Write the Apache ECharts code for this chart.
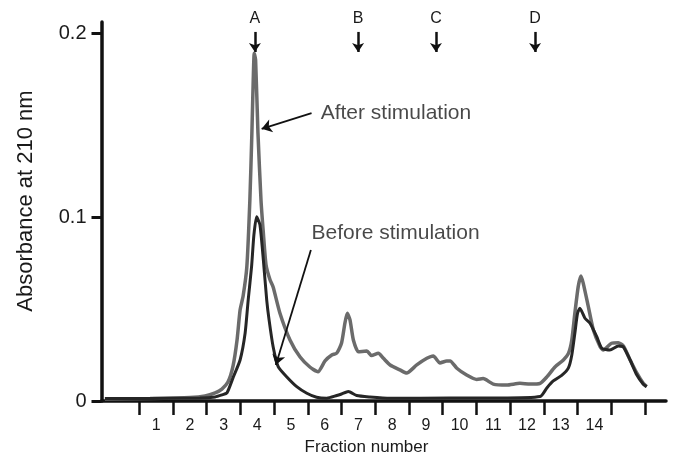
<!DOCTYPE html>
<html>
<head>
<meta charset="utf-8">
<script src="https://cdn.jsdelivr.net/npm/echarts@6/dist/echarts.min.js"></script>
<style>html,body{margin:0;padding:0;background:#fff}#c{width:673px;height:463px}</style>
</head>
<body>
<div id="c"></div>
<script>
// ---- data ----
const fractionLabels = ['', '1','2','3','4','5','6','7','8','9','10','11','12','13','14',''];
const yTickValues = [0, 0.1, 0.2];

const afterX = [-0.52,0.82,2.0,2.45,2.75,2.95,3.13,3.28,3.40,3.49,3.58,3.69,3.78,3.84,3.88,3.91,3.95,4.02,4.11,4.18,4.26,4.38,4.47,4.67,4.97,5.27,5.56,5.80,6.01,6.21,6.36,6.50,6.60,6.67,6.75,6.85,7.00,7.25,7.39,7.59,7.74,7.94,8.23,8.43,8.73,9.03,9.22,9.42,9.62,9.72,9.92,10.21,10.51,10.70,11.00,11.40,11.79,12.09,12.39,12.59,12.83,13.08,13.23,13.33,13.42,13.52,13.60,13.67,13.82,13.97,14.17,14.26,14.51,14.71,14.86,15.06,15.26,15.45,15.55];
const afterY = [0.0011,0.0014,0.0019,0.0027,0.0044,0.0065,0.0103,0.019,0.0332,0.0495,0.0571,0.0729,0.1093,0.1458,0.1746,0.1891,0.1855,0.1458,0.1093,0.0914,0.074,0.0658,0.062,0.0479,0.0332,0.0239,0.0185,0.0159,0.0218,0.025,0.0261,0.0315,0.0424,0.0477,0.0441,0.0332,0.0268,0.0272,0.0247,0.0259,0.0232,0.0196,0.0169,0.0152,0.0196,0.0232,0.0245,0.0207,0.0218,0.0218,0.0178,0.0141,0.0117,0.0122,0.0092,0.0087,0.0096,0.0092,0.0096,0.0131,0.0185,0.0223,0.0259,0.0332,0.0477,0.0622,0.068,0.064,0.0513,0.0386,0.0295,0.0277,0.0314,0.0317,0.0299,0.0223,0.0151,0.0096,0.0078];

const beforeX = [-0.52,0.82,2.30,2.75,2.95,3.10,3.29,3.49,3.64,3.73,3.83,3.90,3.98,4.08,4.18,4.28,4.35,4.47,4.62,4.87,5.17,5.47,5.76,6.06,6.36,6.50,6.70,6.95,7.34,7.94,9.72,11.20,12.39,12.59,12.78,13.03,13.23,13.33,13.42,13.50,13.57,13.72,13.87,14.07,14.22,14.46,14.71,14.86,15.06,15.26,15.45,15.55];
const beforeY = [0.0014,0.0014,0.0016,0.0022,0.0033,0.0044,0.0131,0.0223,0.037,0.0549,0.0729,0.0903,0.1002,0.0957,0.0767,0.0549,0.0441,0.0295,0.0187,0.0132,0.0078,0.0042,0.002,0.0015,0.003,0.0038,0.0052,0.003,0.0022,0.0015,0.0016,0.0016,0.0024,0.0071,0.0109,0.0139,0.018,0.025,0.0368,0.0477,0.0504,0.045,0.0423,0.035,0.0287,0.0277,0.0299,0.0294,0.0223,0.0141,0.0091,0.0078];

const markerNames = ['A','B','C','D'];
const markerPos = [3.93, 6.99, 9.30, 12.24];
const markerTop = 0.2007;
const markerTip = 0.1898;

const annotTexts = ['After stimulation', 'Before stimulation'];
const annotTextPos = [[5.88, 0.1566], [5.61, 0.0912]];
const annotArrowFrom = [[5.61, 0.1566], [5.59, 0.0821]];
const annotArrowTo = [[4.13, 0.148], [4.55, 0.0196]];

const axisTitleX = 'Fraction number';
const axisTitleY = 'Absorbance at 210 nm';

// ---- chart ----
const FONT = '"Liberation Sans", Arial, sans-serif';
const pair = (xs, ys) => xs.map((x, i) => [x, ys[i]]);

const chart = echarts.init(document.getElementById('c'), null, {renderer: 'canvas'});
chart.setOption({
  animation: false,
  backgroundColor: '#fff',
  grid: [
    {left: 101.5, right: 7, top: 22, bottom: 62},
    {left: 105.6, right: 28, top: 22, bottom: 62},
    {left: 101.5, right: 7, top: 33.3, bottom: 62}
  ],
  xAxis: [
    {gridIndex: 0, type: 'value', min: -0.621, max: 16.124,
     axisLine: {show: true, onZero: false, lineStyle: {color: '#111', width: 3.5}},
     axisTick: {show: false}, axisLabel: {show: false}, splitLine: {show: false}},
    {gridIndex: 1, type: 'category', data: fractionLabels, boundaryGap: true,
     axisLine: {show: false, onZero: false},
     axisTick: {show: true, length: 14, lineStyle: {color: '#111', width: 2.5},
                interval: (i) => i !== 0},
     axisLabel: {show: true, interval: 0, margin: 17, fontSize: 16, color: '#1a1a1a', fontFamily: FONT},
     splitLine: {show: false}},
    {gridIndex: 2, type: 'value', show: false, min: 0, max: 1}
  ],
  yAxis: [
    {gridIndex: 0, type: 'value', min: 0, max: 0.2061,
     axisLine: {show: true, onZero: false, lineStyle: {color: '#111', width: 3.5}},
     axisTick: {show: false}, axisLabel: {show: false}, splitLine: {show: false}},
    {gridIndex: 1, type: 'value', show: false, min: 0, max: 1},
    {gridIndex: 2, type: 'value', min: yTickValues[0], max: yTickValues[yTickValues.length - 1],
     interval: yTickValues[1] - yTickValues[0],
     axisLine: {show: false, onZero: false},
     axisTick: {show: true, length: 10, lineStyle: {color: '#111', width: 3}},
     axisLabel: {show: true, margin: 15, fontSize: 20, color: '#1a1a1a', fontFamily: FONT,
                 formatter: (v) => v === 0 ? '0' : v.toFixed(1)},
     splitLine: {show: false}}
  ],
  graphic: [
    {type: 'text', x: 366.5, y: 447, style: {text: axisTitleX, font: '17px ' + FONT, fill: '#1a1a1a',
      textAlign: 'center', textVerticalAlign: 'middle'}},
    {type: 'text', x: 25.5, y: 201, rotation: Math.PI / 2, style: {text: axisTitleY, font: '22px ' + FONT, fill: '#1a1a1a',
      textAlign: 'center', textVerticalAlign: 'middle'}}
  ],
  series: [
    {name: 'After stimulation', type: 'line', xAxisIndex: 0, yAxisIndex: 0,
     data: pair(afterX, afterY), showSymbol: false, smooth: 0.2,
     lineStyle: {color: '#6b6b6b', width: 3.5}, z: 2},
    {name: 'Before stimulation', type: 'line', xAxisIndex: 0, yAxisIndex: 0,
     data: pair(beforeX, beforeY), showSymbol: false, smooth: 0.2,
     lineStyle: {color: '#262626', width: 3}, z: 3,
     markLine: {
       silent: true, symbol: ['none', 'arrow'], symbolSize: 9, animation: false,
       lineStyle: {color: '#111', width: 2.5, type: 'solid'},
       label: {show: true, position: 'start', distance: 5, fontSize: 16, color: '#1a1a1a', fontFamily: FONT,
               formatter: (p) => p.name},
       data: markerNames.map((n, i) => [
         {name: n, coord: [markerPos[i], markerTop]},
         {coord: [markerPos[i], markerTip]}
       ])
     }},
    {name: 'annotArrows', type: 'line', xAxisIndex: 0, yAxisIndex: 0, data: [], z: 4,
     markLine: {
       silent: true, symbol: ['none', 'arrow'], symbolSize: 10, animation: false,
       lineStyle: {color: '#111', width: 1.8, type: 'solid'},
       label: {show: false},
       data: annotArrowFrom.map((f, i) => [{coord: f}, {coord: annotArrowTo[i]}])
     }},
    {name: 'annotTexts', type: 'scatter', xAxisIndex: 0, yAxisIndex: 0, symbolSize: 0, z: 5,
     data: annotTexts.map((t, i) => ({name: t, value: annotTextPos[i]})),
     label: {show: true, position: 'right', distance: 0, fontSize: 21, color: '#1a1a1a', fontFamily: FONT,
             formatter: (p) => p.name}}
  ]
});
</script>
</body>
</html>
